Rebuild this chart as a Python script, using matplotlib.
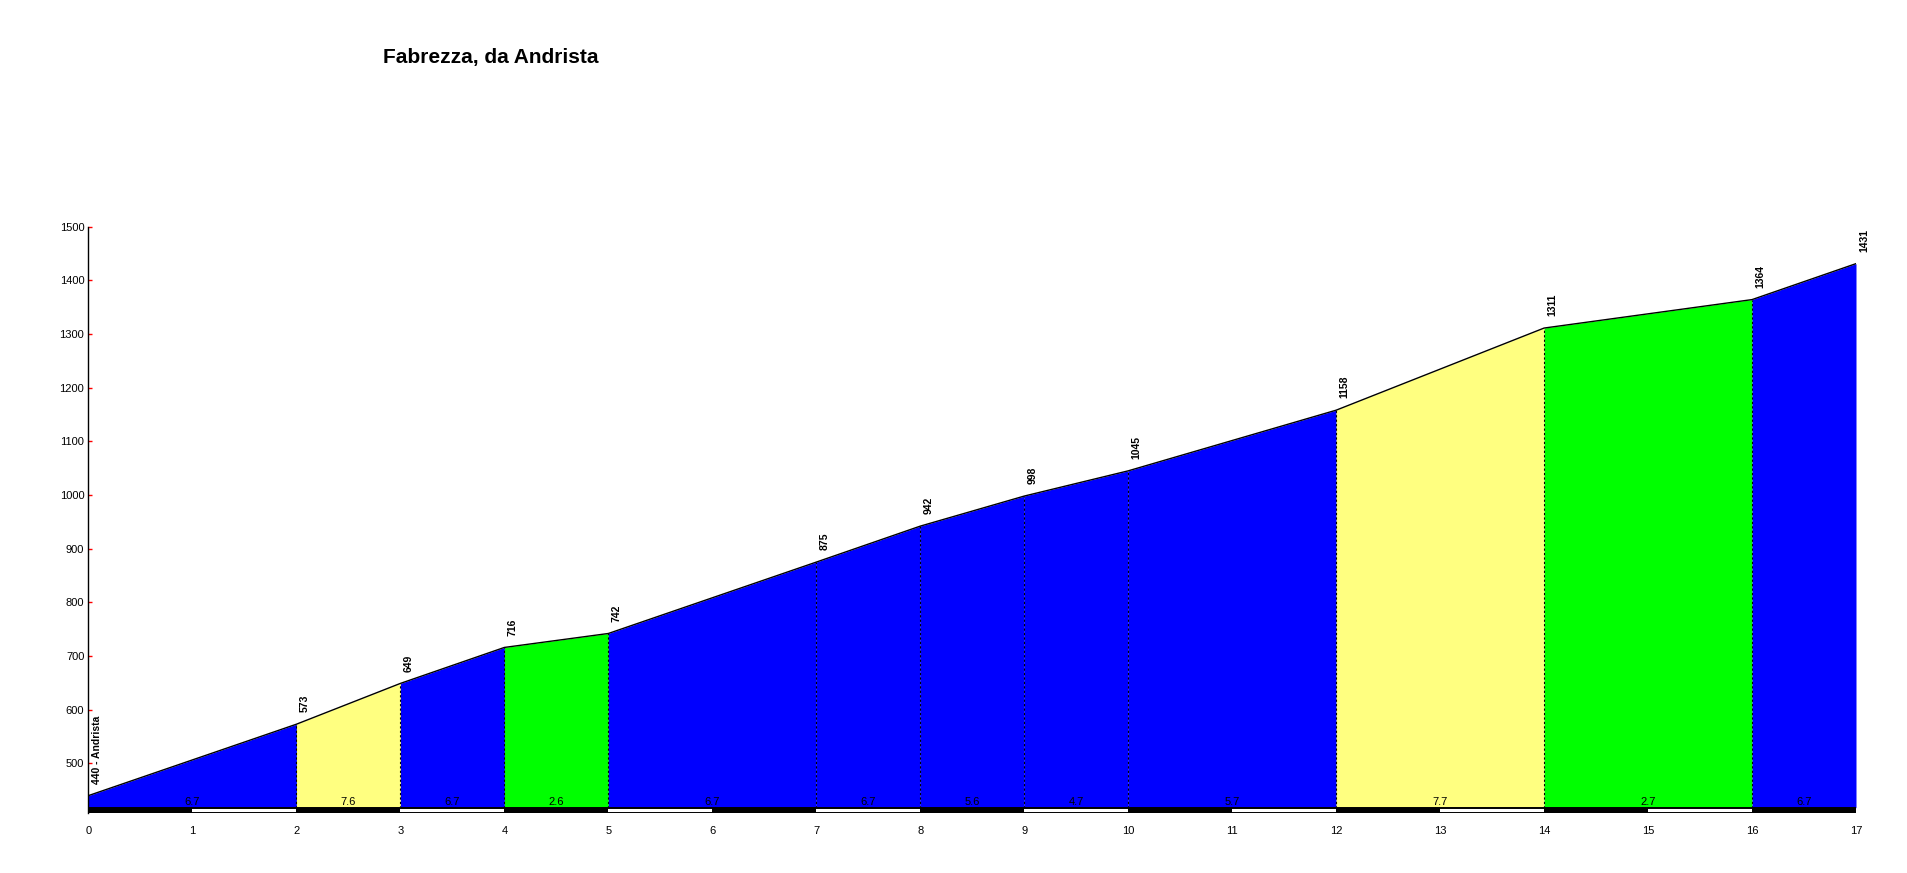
import matplotlib
matplotlib.use('Agg')
import matplotlib.pyplot as plt

plt.rcParams['font.family'] = ['Liberation Sans', 'DejaVu Sans']

# --- profile data ---
km_points = [0, 2, 3, 4, 5, 7, 8, 9, 10, 12, 14, 16, 17]
elevations = [440, 573, 649, 716, 742, 875, 942, 998, 1045, 1158, 1311, 1364, 1431]
grade_labels = ['6.7', '7.6', '6.7', '2.6', '6.7', '6.7', '5.6', '4.7', '5.7', '7.7', '2.7', '6.7']
segment_colors = ['#0000FF', '#FFFF80', '#0000FF', '#00FF00', '#0000FF', '#0000FF',
                  '#0000FF', '#0000FF', '#0000FF', '#FFFF80', '#00FF00', '#0000FF']
start_name = 'Andrista'
title = 'Fabrezza, da Andrista'

y_bottom = 407
bar_top = 417.5
y_top = 1500

fig = plt.figure(figsize=(19.08, 8.73), dpi=100)
ax = fig.add_axes([88.5 / 1908, 1 - 813.3 / 873, (1856 - 88.5) / 1908, (813.3 - 226.6) / 873])

# coloured fill for every segment
for i in range(len(km_points) - 1):
    xs = [km_points[i], km_points[i + 1]]
    ys = [elevations[i], elevations[i + 1]]
    ax.fill_between(xs, ys, bar_top, color=segment_colors[i], linewidth=0, zorder=1)

# profile outline
ax.plot(km_points, elevations, color='black', linewidth=1, zorder=3)

# dashed separators at segment boundaries
for k, e in zip(km_points[1:-1], elevations[1:-1]):
    ax.plot([k, k], [bar_top, e], color='black', linewidth=0.8,
            linestyle=(0, (2, 2)), zorder=2)

# elevation labels
for k, e in zip(km_points, elevations):
    txt = f'{e} - {start_name}' if k == km_points[0] else str(e)
    ax.annotate(txt, (k, e), xytext=(2.5, 8.5), textcoords='offset points',
                rotation=90, ha='left', va='bottom', fontsize=7.5,
                fontweight='bold', zorder=4)

# grade labels above the km bar
for i, g in enumerate(grade_labels):
    mid = (km_points[i] + km_points[i + 1]) / 2
    ax.text(mid, bar_top + 0.5, g, ha='center', va='bottom', fontsize=8, zorder=4)

# black / white km bar
total_km = km_points[-1]
for k in range(total_km):
    c = 'black' if k % 2 == 0 else 'white'
    ax.fill_between([k, k + 1], y_bottom, bar_top, color=c, linewidth=0, zorder=2)
ax.plot([0, total_km, total_km, 0, 0], [y_bottom + 1, y_bottom + 1, bar_top - 1, bar_top - 1, y_bottom + 1],
        color='black', linewidth=1.4, zorder=3)

ax.set_xlim(0, total_km)
ax.set_ylim(y_bottom, y_top)
ax.set_xticks(range(0, total_km + 1))
ax.set_yticks(range(500, 1501, 100))
ax.tick_params(axis='x', length=0, pad=9, labelsize=8)
ax.tick_params(axis='y', direction='in', length=3, width=1, color='red', pad=3, labelsize=8)

for side in ['top', 'right', 'bottom']:
    ax.spines[side].set_visible(False)
ax.spines['left'].set_color('black')
ax.spines['left'].set_linewidth(1)

fig.text(491 / 1908, 1 - 63 / 873, title, ha='center', va='baseline',
         fontsize=15, fontweight='bold')

fig.savefig('out.png', dpi=100)
